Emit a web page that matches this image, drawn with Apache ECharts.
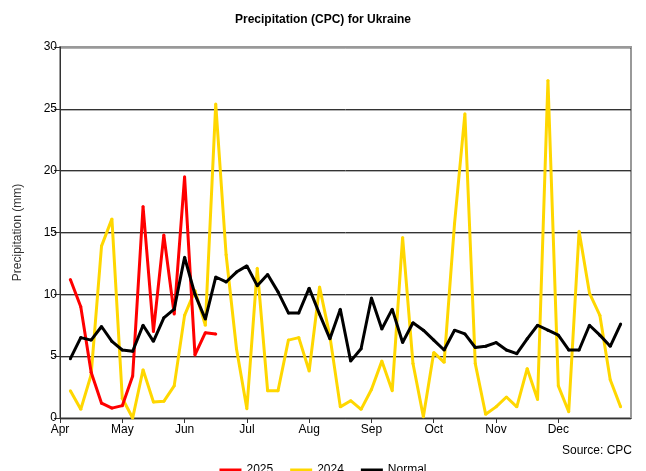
<!DOCTYPE html>
<html>
<head>
<meta charset="utf-8">
<script src="https://cdn.jsdelivr.net/npm/echarts@6/dist/echarts.min.js"></script>
<style>
  html, body { margin: 0; padding: 0; background: #fff; }
  #main { width: 646px; height: 471px; }
</style>
</head>
<body>
<div id="main"></div>
<script>
// pentads, 6 per month, Apr - Dec
var months = ['Apr', 'May', 'Jun', 'Jul', 'Aug', 'Sep', 'Oct', 'Nov', 'Dec'];
var yTicks = [0, 5, 10, 15, 20, 25, 30];

var rain2025 = [11.2, 9.0, 3.7, 1.2, 0.8, 1.0, 3.4, 17.1, 7.0, 14.8, 8.4, 19.5, 5.1, 6.9, 6.8];

var rain2024 = [2.2, 0.7, 3.5, 13.9, 16.1, 1.6, 0.0, 3.9, 1.3, 1.35, 2.6, 8.3, 10.3, 7.5, 25.4,
    13.2, 5.6, 0.75, 12.1, 2.2, 2.2, 6.3, 6.5, 3.8, 10.6, 6.6, 0.9, 1.4, 0.7,
    2.3, 4.6, 2.2, 14.6, 4.4, 0.1, 5.3, 4.5, 15.7, 24.6, 4.4, 0.3, 0.9,
    1.7, 0.9, 4.0, 1.5, 27.3, 2.6, 0.5, 15.1, 10.1, 8.3, 3.1, 0.9];

var normal = [4.8, 6.5, 6.3, 7.4, 6.2, 5.5, 5.4, 7.5, 6.2, 8.1, 8.8, 13.0, 10.0, 8.0, 11.4,
    11.0, 11.8, 12.3, 10.7, 11.6, 10.2, 8.5, 8.5, 10.5, 8.4, 6.4, 8.8, 4.6, 5.6,
    9.7, 7.2, 8.8, 6.1, 7.7, 7.1, 6.3, 5.5, 7.1, 6.8, 5.7, 5.8, 6.1,
    5.5, 5.2, 6.4, 7.5, 7.1, 6.7, 5.5, 5.5, 7.5, 6.7, 5.8, 7.6];

// each point sits at the end of its pentad
function toPoints(arr) {
    return arr.map(function (v, i) { return [i + 1, v]; });
}

var monthTicks = months.map(function (m, i) { return i * 6; });
var font = 'Arial, "Liberation Sans", sans-serif';

var myChart = echarts.init(document.getElementById('main'));

myChart.setOption({
    animation: false,
    title: {
        text: 'Precipitation (CPC) for Ukraine',
        left: 'center',
        top: 9,
        textStyle: { fontFamily: font, fontSize: 12, fontWeight: 'bold', color: '#000' }
    },
    legend: {
        data: ['2025', '2024', 'Normal'],
        bottom: -5,
        left: 'center',
        padding: 0,
        itemWidth: 22,
        itemHeight: 3,
        itemGap: 17,
        icon: 'rect',
        textStyle: { fontFamily: font, fontSize: 12, color: '#000' }
    },
    graphic: [{
        type: 'text',
        right: 14,
        top: 445,
        style: { text: 'Source: CPC', fontFamily: font, fontSize: 12, fill: '#000' }
    }],
    grid: {
        left: 60, right: 15, top: 47, bottom: 53,
        show: true,
        borderColor: '#999',
        borderWidth: 2
    },
    xAxis: {
        type: 'value',
        min: 0,
        max: 55,
        axisLine: { lineStyle: { color: '#333', width: 1 } },
        axisTick: { customValues: monthTicks, length: 5, lineStyle: { color: '#333' } },
        axisLabel: {
            customValues: monthTicks,
            formatter: function (v) { return months[v / 6]; },
            fontFamily: font, fontSize: 12, color: '#000', margin: 6
        },
        splitLine: { show: false }
    },
    yAxis: {
        type: 'value',
        min: yTicks[0],
        max: yTicks[yTicks.length - 1],
        interval: 5,
        name: 'Precipitation (mm)',
        nameLocation: 'middle',
        nameGap: 36,
        nameTextStyle: { fontFamily: font, fontSize: 12, color: '#333' },
        axisLine: { show: true, lineStyle: { color: '#333', width: 1 } },
        axisTick: { show: true, length: 6, lineStyle: { color: '#333' } },
        axisLabel: { fontFamily: font, fontSize: 12, color: '#000', margin: 3 },
        splitLine: {
            lineStyle: {
                color: ['#333', '#333', '#333', '#333', '#333', '#333', '#999'],
                width: 1,
                shadowColor: 'rgba(0,0,0,0.3)',
                shadowOffsetY: 1
            }
        }
    },
    series: [{
        name: '2025',
        type: 'line',
        data: toPoints(rain2025),
        color: '#ff0000',
        symbol: 'circle',
        symbolSize: 3,
        lineStyle: { width: 3 },
        z: 4
    }, {
        name: '2024',
        type: 'line',
        data: toPoints(rain2024),
        color: '#ffd700',
        symbol: 'circle',
        symbolSize: 3,
        lineStyle: { width: 3 },
        z: 3
    }, {
        name: 'Normal',
        type: 'line',
        data: toPoints(normal),
        color: '#000000',
        symbol: 'circle',
        symbolSize: 3,
        lineStyle: { width: 3 },
        z: 5
    }]
});
</script>
</body>
</html>
